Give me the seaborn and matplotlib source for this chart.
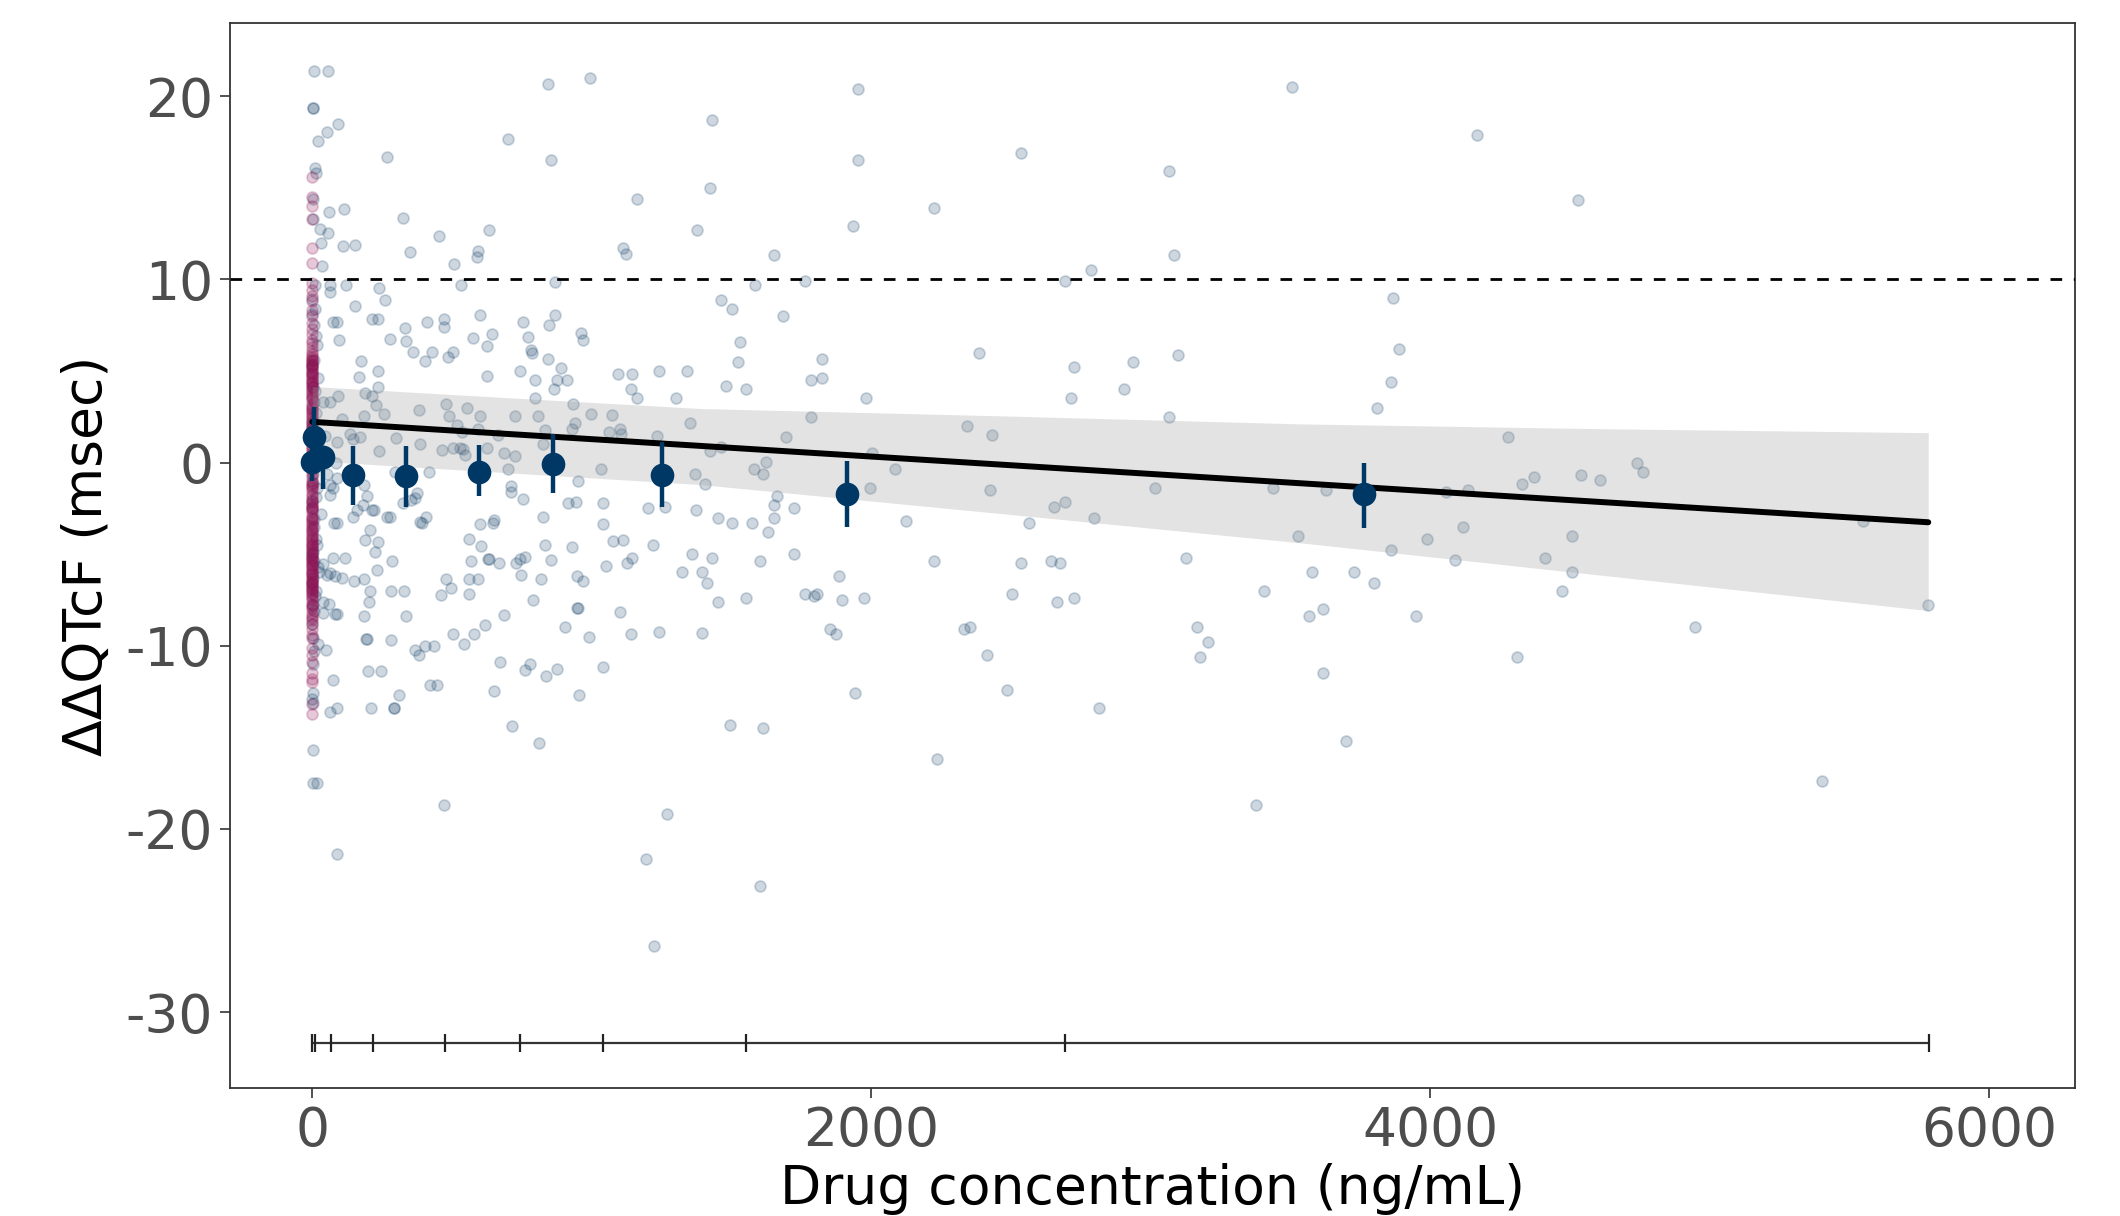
import numpy as np
import pandas as pd
import matplotlib
matplotlib.use("Agg")
import matplotlib.pyplot as plt
import seaborn as sns

# ---------------- data ----------------
active_conc = [
    7, 57, 1, 3, 93, 51, 19, 266, 701, 844, 994, 856, 1161, 323, 60, 115, 55, 28, 30, 111, 154, 348, 452, 633,
    592, 589, 506, 1111, 1122, 1375, 35, 10, 12, 1, 63, 63, 119, 240, 260, 153, 532, 868, 75, 87, 95, 212, 234,
    278, 332, 335, 359, 403, 410, 427, 470, 472, 487, 505, 576, 600, 626, 643, 755, 773, 782, 785, 848, 868, 844,
    890, 874, 910, 865, 961, 968, 743, 798, 625, 1093, 1143, 1139, 1162, 1242, 1342, 1303, 174, 166, 236, 236,
    189, 212, 227, 257, 93, 63, 39, 105, 186, 135, 147, 171, 90, 45, 239, 299, 385, 383, 478, 490, 517, 552, 601,
    592, 534, 538, 463, 502, 528, 546, 624, 686, 726, 666, 726, 798, 806, 833, 827, 934, 940, 928, 996, 1072,
    1101, 1103, 1063, 1234, 1351, 1369, 1032, 952, 916, 943, 1040, 1040, 1202, 1262, 1373, 824, 755, 711, 711,
    699, 600, 648, 651, 562, 602, 833, 928, 1077, 1113, 1220, 419, 373, 355, 367, 326, 296, 407, 385, 391, 266,
    278, 212, 185, 197, 183, 222, 147, 161, 63, 75, 87, 51, 85, 90, 78, 206, 189, 236, 63,
    286, 230, 224, 75, 117, 39, 63, 51, 81, 105, 149, 185, 206, 280, 328, 203, 186, 335, 39, 61, 81, 87, 37, 191,
    195, 282, 48, 367, 383, 405, 435, 75, 200, 246, 63, 87, 210, 292, 294, 311, 421, 445, 477, 496, 460, 561,
    592, 562, 567, 630, 632, 669, 729, 743, 761, 746, 817, 854, 791, 687, 617, 580, 544, 503, 946, 967, 949, 951,
    903, 991, 1051, 1125, 1143, 1101, 1141, 1242, 1322, 1360, 670, 761, 779, 835, 876, 1041, 650, 955, 716, 811,
    1, 1, 18, 87, 471, 1271, 1193, 1222,
    1432, 1954, 1954, 1423, 1934, 2224, 2535, 3066, 3085, 3505, 1653, 1583, 1763, 2695, 2785, 1462, 1503, 1683,
    1532, 1523, 1482, 1553, 1823, 1783, 1823, 1983, 1783, 1694, 1464, 1423, 1404, 1581, 1614, 1622, 1664, 1653,
    1653, 1723, 1632, 1573, 1502, 1453, 1432, 1394, 1412, 1451, 1394, 1602, 1723, 1553, 1763, 1794, 1805, 1883,
    1894, 1973, 1853, 1873, 1942, 1493, 1613, 1602, 2003, 1994, 2084, 2124, 2224, 2235, 2344, 2384, 2433, 2425,
    2333, 2354, 2414, 2484, 2505, 2535, 2565, 2644, 2676, 2665, 2725, 2654, 2695, 2715, 2725, 2796, 2815, 2906,
    2936, 3066, 3096, 3015, 3126, 3165, 3205, 3175, 3407, 3377, 3437, 3527,
    4169, 4530, 3866, 3888, 3858, 3808, 4279, 3628, 4057, 4137, 4330, 4370, 4539, 4609, 4740, 4760, 5550, 5782,
    4119, 3988, 3858, 4087, 4410, 4509, 4509, 4470, 3577, 3727, 3798, 3568, 3617, 3948, 3617, 3697, 4309, 4949,
    5402,
    0, 10, 5, 15, 0, 20, 5, 12, 0, 25, 8, 3, 18, 0, 30, 6, 12, 0, 22, 4, 14, 2, 1, 8, 3, 0, 2,
    4, 9, 0, 16, 6, 2, 11, 0, 7, 21, 3, 13, 0, 5, 17, 1, 8, 24, 0, 10, 6, 0, 19, 3,
]
active_ddqtc = [
    21.35, 21.35, 19.34, 19.34, 18.5, 18.03, 17.53, 16.68, 17.68, 20.67, 21.0, 16.5, 14.4, 13.34, 13.69, 13.86,
    12.51, 12.73, 11.99, 11.81, 11.85, 11.51, 12.34, 12.70, 11.53, 11.2, 10.85, 11.72, 11.39, 12.7, 10.7, 16.05,
    15.78, 14.4, 9.69, 9.32, 9.69, 9.5, 8.86, 8.53, 9.69, 9.84, 7.69, 7.69, 6.68, 7.84, 7.84, 6.73, 7.32, 6.64,
    6.03, 5.53, 7.69, 6.03, 7.84, 7.42, 5.76, 6.03, 6.77, 8.03, 6.37, 7.01, 7.66, 6.86, 6.14, 5.99, 7.51, 8.03,
    5.66, 5.17, 4.52, 4.52, 4.02, 7.05, 6.68, 5.02, 4.52, 4.74, 4.83, 4.83, 4.0, 3.5, 5.02, 5.02, 3.5, 5.53, 4.67,
    5.02, 4.15, 3.78, 3.63, 3.14, 2.67, 3.63, 3.32, 3.32, 2.4, 2.53, 1.57, 1.29, 1.38, 1.1, 1.47, 0.65, 1.35,
    1.02, 2.88, 3.17, 2.53, 2.03, 3.0, 2.53, 1.84, 1.69, 0.74, 0.70, 0.77, 0.77, 0.4, 0.77, 0.51, 0.33, 1.53,
    2.54, 3.5, 2.54, 1.75, 1.02, 3.17, 2.16, 1.84, 2.67, 2.62, 1.84, 1.57, 1.66, 1.47, 2.16, -0.65, -0.37, -1.02,
    -2.22, -2.18, -2.22, -3.38, -2.49, -2.40, -2.58, -2.99, -1.99, -1.29, -1.63, -0.33, -3.38, -3.29, -3.14,
    -4.15, -4.58, -4.49, -4.62, -4.28, -4.25, -4.49, -0.52, -1.66, -2.03, -1.94, -2.22, -0.52, -2.99, -3.23,
    -3.29, -2.99, -2.99, -2.58, -1.2, -1.85, -2.31, -2.58, -2.95, -2.58, -1.2, -1.39, -0.83, -0.65, 0.0, -3.3,
    -3.3, -3.69, -4.25, -4.34, -1.75,
    -5.37, -5.85, -4.86, -5.22, -5.22, -5.53, -6.04, -6.14, -6.2, -6.29, -6.48, -6.33, -6.99, -6.99, -6.99,
    -7.63, -8.37, -8.37, -7.63, -7.72, -8.24, -8.24, -8.2, -9.63, -9.63, -9.67, -10.24, -10.24, -10.49, -9.99,
    -9.99, -11.86, -11.38, -11.38, -13.64, -13.39, -13.39, -13.39, -13.39, -12.66, -12.15, -12.15, -6.33, -6.86,
    -7.24, -6.37, -6.37, -7.15, -5.37, -5.28, -5.28, -5.51, -5.47, -5.28, -5.15, -6.14, -6.37, -5.32, -7.51,
    -8.33, -8.85, -9.34, -9.88, -9.38, -6.18, -6.48, -7.95, -7.95, -9.0, -9.51, -5.62, -5.47, -5.22, -8.18,
    -9.38, -9.25, -5.99, -4.99, -10.87, -11.33, -11.0, -11.63, -11.25, -11.16, -12.49, -12.66, -14.38, -15.33,
    -15.68, -17.49, -17.49, -21.34, -18.67, -19.17, -21.65, -26.36,
    18.72, 20.4, 16.5, 15.0, 12.9, 13.9, 16.9, 15.9, 11.3, 20.5, 11.3, 9.7, 9.9, 9.9, 10.5, 8.86, 8.38, 8.0,
    6.6, 5.5, 4.2, 4.0, 5.67, 4.5, 4.6, 3.5, 2.5, 1.4, 0.85, 0.63, -1.15, -0.33, -0.63, 0.03, -1.8, -2.3, -3.0,
    -2.5, -3.8, -3.3, -3.3, -3.0, -5.2, -6.0, -6.6, -7.6, -9.3, -5.4, -5.0, -7.4, -7.2, -7.3, -7.2, -6.2, -7.5,
    -7.4, -9.1, -9.35, -12.6, -14.3, -14.5, -23.1, 0.52, -1.4, -0.33, -3.2, -5.4, -16.2, 2.0, 6.0, 1.5, -1.5,
    -9.1, -9.0, -10.5, -12.4, -7.2, -5.5, -3.3, -5.4, -5.5, -7.6, -7.4, -2.4, -2.15, 3.5, 5.2, -3.0, -13.4, 4.0,
    5.5, 2.5, 5.85, -1.4, -5.2, -9.0, -9.8, -10.6, -7.0, -18.7, -1.4, -4.0,
    17.9, 14.35, 9.0, 6.2, 4.4, 3.0, 1.37, -1.5, -1.6, -1.5, -1.15, -0.8, -0.67, -0.97, 0.0, -0.5, -3.2, -7.8,
    -3.5, -4.2, -4.8, -5.3, -5.2, -4.0, -6.0, -7.0, -6.0, -6.0, -6.6, -8.4, -8.0, -8.4, -11.5, -15.2, -10.6,
    -9.0, -17.4,
    8.9, 8.4, 7.5, 6.9, 5.2, 4.6, 3.3, 2.7, 1.9, 0.8, 0.2, -0.6, -1.4, -2.1, -2.8, -3.5, -4.2, -5.0, -5.7, -6.3,
    -7.0, -7.8, -9.6, -10.3, -12.6, -12.9, -13.1,
    13.3, 9.7, 8.1, 6.4, 5.6, 4.1, 3.9, 2.2, 1.0, -0.2, -1.1, -1.9, -2.5, -3.1, -4.5, -4.9, -5.4, -6.0, -6.7,
    -7.3, -8.1, -8.8, -9.9, -11.0,
]

placebo_ddqtc = [
    15.6, 14.5, 14.0, 13.3, 11.7, 10.9, 9.8, 9.1, 8.3, 7.6, 6.7, 6.1, 5.8, 5.5, 5.3, 5.1, 4.8, 4.5, 4.3, 4.0,
    3.7, 3.2, 2.9, 2.6, 2.4, 2.1, 1.8, 1.5, 1.2, 1.1, 0.7, 0.4, 0.0, -0.3, -0.6, -1.0, -1.3, -1.5, -1.7, -2.0,
    -2.2, -2.4, -2.6, -3.0, -3.3, -3.5, -3.7, -4.1, -4.4, -4.6, -4.8, -5.1, -5.4, -5.6, -5.9, -6.2, -6.4, -6.6,
    -6.9, -7.1, -7.3, -7.7, -8.0, -8.4, -8.6, -9.1, -9.4, -10.1, -11.8, -12.0, -13.2, -13.7,
    9.4, 8.8, 8.0, 7.3, 7.0, 6.5, 6.3, 5.9, 5.7, 5.6, 5.4, 5.2, 5.0, 4.9, 4.7, 4.6, 4.4, 4.2, 4.1, 3.9, 3.8,
    3.5, 3.4, 3.1, 3.0, 2.7, 2.5, 2.2, 2.0, 1.6, 1.3, 0.9, 0.5, 0.2, -0.1, -0.4, -0.8, -1.1, -1.4, -1.8, -2.1,
    -2.3, -2.7, -2.9, -3.1, -3.2, -3.4, -3.6, -3.9, -4.0, -4.2, -4.3, -4.5, -4.7, -4.9, -5.0, -5.2, -5.3, -5.5,
    -5.7, -5.8, -6.0, -6.1, -6.3, -6.5, -6.7, -6.8, -7.0, -7.2, -7.5, -7.8, -8.2, -8.5, -8.8, -9.6, -10.5,
    -10.9, -11.5,
    5.6, 5.3, 4.9, 4.4, 3.6, 2.8, 1.9, 0.8, -1.2, -2.5, -3.8, -4.5, -5.2, -5.6, -6.1, -6.5, -6.9, -7.4, -7.9,
]

bin_conc = [0, 5, 39, 147, 334, 596, 862, 1252, 1913, 3764]
bin_mean = [0.03, 1.38, 0.28, -0.70, -0.74, -0.52, -0.09, -0.70, -1.71, -1.71]
bin_lo = [-1.02, -0.30, -1.44, -2.31, -2.44, -1.85, -1.66, -2.44, -3.52, -3.56]
bin_hi = [1.10, 3.04, 0.83, 0.92, 0.88, 0.96, 1.57, 1.10, 0.07, -0.04]

fit_conc = [0, 700, 1387, 2461, 3535, 4595, 5782]
fit_mean = [2.22, 1.56, 0.91, -0.11, -1.13, -2.14, -3.26]
fit_lo = [0.09, -0.56, -1.20, -2.78, -4.38, -6.12, -8.08]
fit_hi = [4.15, 3.54, 2.95, 2.55, 2.11, 1.85, 1.63]

decile_conc = [0, 10, 67, 217, 475, 743, 1040, 1551, 2693, 5785]
rug_level = -31.67
threshold = 10

x_ticks = [0, 2000, 4000, 6000]
y_ticks = [-30, -20, -10, 0, 10, 20]
x_label = "Drug concentration (ng/mL)"
y_label = "ΔΔQTcF (msec)"

# ---------------- styling ----------------
sns.set_style("white")
plt.rcParams["font.family"] = ["DejaVu Sans"]

BLUE = "#0b3a63"
NAVY = "#003865"
PINK = "#8c0d50"

active = pd.DataFrame({"conc": active_conc, "ddqtc": active_ddqtc})
placebo = pd.DataFrame({"conc": np.zeros(len(placebo_ddqtc)), "ddqtc": placebo_ddqtc})
bins = pd.DataFrame({"conc": bin_conc, "mean": bin_mean, "lo": bin_lo, "hi": bin_hi})
fit = pd.DataFrame({"conc": fit_conc, "mean": fit_mean, "lo": fit_lo, "hi": fit_hi})

fig = plt.figure(figsize=(21.2, 12.16), dpi=100)
ax = fig.add_axes([0.1084, 0.1049, 0.8705, 0.8762])

sns.scatterplot(data=active, x="conc", y="ddqtc", color=BLUE, alpha=0.2, s=62,
                edgecolor=BLUE, linewidth=1.3, ax=ax, zorder=2)
sns.scatterplot(data=placebo, x="conc", y="ddqtc", color=PINK, alpha=0.22, s=62,
                edgecolor=PINK, linewidth=1.3, ax=ax, zorder=2)

ax.fill_between(fit["conc"], fit["lo"], fit["hi"], color="#999999", alpha=0.27,
                linewidth=0, zorder=3)
sns.lineplot(data=fit, x="conc", y="mean", color="black", linewidth=4.3, ax=ax, zorder=4)

ax.axhline(threshold, color="black", linewidth=2.0, linestyle=(0, (4.2, 4.2)), zorder=4)

ax.vlines(bins["conc"], bins["lo"], bins["hi"], color=NAVY, linewidth=3.2, zorder=5)
sns.scatterplot(data=bins, x="conc", y="mean", color=NAVY, s=290, edgecolor=NAVY,
                linewidth=0, ax=ax, zorder=6)

ax.hlines(rug_level, decile_conc[0], decile_conc[-1], color="#333333", linewidth=1.6, zorder=4)
ax.vlines(decile_conc, rug_level - 0.5, rug_level + 0.5, color="#222222", linewidth=1.6, zorder=4)

ax.set_xlim(-295, 6308)
ax.set_ylim(-34.16, 23.99)
ax.set_xticks(x_ticks)
ax.set_yticks(y_ticks)
ax.set_xticklabels([str(v) for v in x_ticks])
ax.set_yticklabels([str(v) for v in y_ticks])

ax.tick_params(axis="both", which="major", labelsize=38.5, labelcolor="#4d4d4d",
               color="#333333", length=7, width=1.2, direction="out", pad=5,
               bottom=True, left=True)

ax.set_xlabel(x_label, fontsize=38.5, color="black", labelpad=4)
ax.set_ylabel(y_label, fontsize=38.5, color="black", labelpad=9)

for sp in ax.spines.values():
    sp.set_color("#333333")
    sp.set_linewidth(1.3)

fig.savefig("out.png", dpi=100)
